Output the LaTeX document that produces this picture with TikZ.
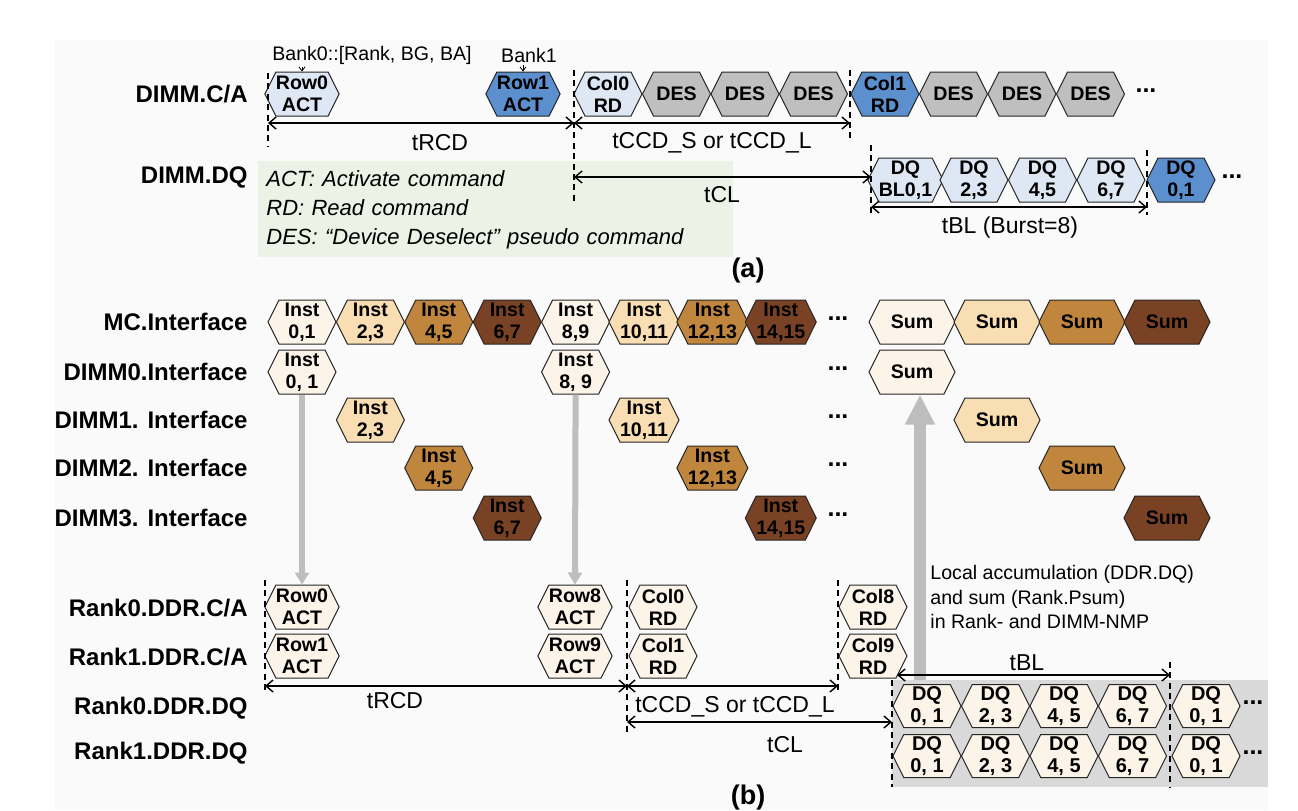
\documentclass[tikz,border=0pt]{standalone}
\usepackage{fontspec}
\setmainfont{Liberation Sans}
\definecolor{PaperGray}{RGB}{250, 250, 250}
\definecolor{PaleBlue}{RGB}{222, 231, 244}
\definecolor{DeepBlue}{RGB}{91, 143, 205}
\definecolor{DesGray}{RGB}{191, 191, 191}
\definecolor{NoteGreen}{RGB}{236, 242, 229}
\definecolor{Cream}{RGB}{252, 244, 232}
\definecolor{Tan}{RGB}{248, 222, 178}
\definecolor{Ochre}{RGB}{193, 134, 62}
\definecolor{Umber}{RGB}{121, 66, 36}
\definecolor{PanelGray}{RGB}{217, 217, 217}
\definecolor{FeedGray}{RGB}{190, 190, 190}
\usetikzlibrary{arrows.meta, shapes.symbols, positioning}
\tikzset{
  lane/.style={anchor=east, inner sep=0pt, font=\fontsize{12}{14}\selectfont\bfseries},
  hexbox/.style={signal, signal to=east and west, signal pointer angle=127, draw=black!85, line width=0.5pt,
    inner sep=0pt, minimum width=34pt, minimum height=22pt, align=center, font=\fontsize{9.8}{11}\selectfont\bfseries},
  sumbox/.style={hexbox, minimum width=43pt},
  dqbox/.style={hexbox, fill=Cream, minimum height=21.5pt, font=\fontsize{10}{11.2}\selectfont\bfseries},
  dots/.style={font=\fontsize{12.5}{14}\selectfont\bfseries},
  marker/.style={line width=0.6pt, dash pattern=on 3pt off 2.2pt},
  timing/.style={<->, line width=0.7pt},
  tlabel/.style={font=\fontsize{11.5}{13}\selectfont},
  note/.style={inner sep=1pt, font=\fontsize{9.8}{12.2}\selectfont},
  legend/.style={fill=NoteGreen, inner xsep=4pt, text width=229.5pt, minimum height=48pt, align=left,
    font=\fontsize{11}{14.5}\selectfont\itshape},
  caption/.style={font=\fontsize{13.5}{15}\selectfont\bfseries},
  feed/.style={FeedGray, line width=3pt, -{Triangle[length=6pt, width=7pt]}},
  accum/.style={FeedGray, line width=6pt, -{Triangle[length=15pt, width=14pt]}}
}
\begin{document}
\begin{tikzpicture}[x=0.5pt, y=-0.5pt, >={Straight Barb[length=3.5pt, width=6pt]}]
    \useasboundingbox (0,0) rectangle (1298,810);
    \fill[PaperGray] (55,40) rectangle (1268,810);
    % ---------- (a) DIMM level ----------
    \node[lane] (laCA) at (248,94) {DIMM.C/A};
    \node[lane] (laDQ) at (248,177) {DIMM.DQ};
    % legend
    \node[legend, anchor=north west] (legend) at (258,161) {ACT: Activate command\\RD: Read command\\DES: “Device Deselect” pseudo command};
    % command bus
    \node[hexbox, fill=PaleBlue] (aRow0) at (302,94) {Row0\\ACT};
    \node[hexbox, fill=DeepBlue] (aRow1) at (523,94) {Row1\\ACT};
    \node[hexbox, fill=PaleBlue] (aCol0) at (608,94) {Col0\\RD};
    \foreach \x [count=\i] in {676.5,745,813.5}
        \node[hexbox, fill=DesGray] (aDesA\i) at (\x,94) {DES};
    \node[hexbox, fill=DeepBlue] (aCol1) at (885,94) {Col1\\RD};
    \foreach \x [count=\i] in {953.5,1022,1090.5}
        \node[hexbox, fill=DesGray] (aDesB\i) at (\x,94) {DES};
    \node[dots] (aDots) at (1146,91) {...};
    % bank tags
    \node[note] (bank0) at (372,55) {Bank0::[Rank, BG, BA]};
    \node[note] (bank1) at (529,55) {Bank1};
    \draw[-{Straight Barb[length=2pt, width=3pt]}, line width=0.4pt] (bank0.south -| aRow0) -- (aRow0.north);
    \draw[-{Straight Barb[length=2pt, width=3pt]}, line width=0.4pt] (bank1.south -| aRow1) -- (aRow1.north);
    % data bus
    \foreach \x/\lbl [count=\i] in {905.5/{BL0,1}, 974/{2,3}, 1042.5/{4,5}, 1111/{6,7}}
        \node[hexbox, fill=PaleBlue] (aDq\i) at (\x,180) {DQ\\\lbl};
    \node[hexbox, fill=DeepBlue] (aDq5) at (1181,180) {DQ\\0,1};
    \node[dots] (aDqDots) at (1232,177) {...};
    % timing markers
    \coordinate (aT0) at (268,123);
    \coordinate (aT1) at (574,123);
    \coordinate (aT2) at (850,123);
    \coordinate (aL0) at (574,177);
    \coordinate (aL1) at (871,177);
    \coordinate (aB0) at (871,207);
    \coordinate (aB1) at (1147,207);
    \draw[marker] (268,73) -- (268,147);
    \draw[marker] (574,70) -- (574,205);
    \draw[marker] (850,70) -- (850,140);
    \draw[marker] (871,145) -- (871,215);
    \draw[marker] (1147,150) -- (1147,215);
    \draw[timing] (aT0) -- (aT1);
    \draw[timing] (aT1) -- (aT2);
    \draw[timing] (aL0) -- (aL1);
    \draw[timing] (aB0) -- (aB1);
    \node[tlabel] (aRcd) at (440,143) {tRCD};
    \node[tlabel] (aCcd) at (712,143) {tCCD\_S or tCCD\_L};
    \node[tlabel] (aCl) at (722,195) {tCL};
    \node[tlabel] (aBl) at (1010,228) {tBL (Burst=8)};
    \node[caption] (capA) at (748,271) {(a)};
    % ---------- (b) NMP level ----------
    \foreach \y/\txt [count=\i] in {322/{MC.Interface}, 372/{DIMM0.Interface}, 420/{DIMM1. Interface}, 468/{DIMM2. Interface},
        518/{DIMM3. Interface}, 608/{Rank0.DDR.C/A}, 657/{Rank1.DDR.C/A}, 708/{Rank0.DDR.DQ}, 753/{Rank1.DDR.DQ}}
        \node[lane] (lb\i) at (248,\y) {\txt};
    % MC interface
    \foreach \lbl/\col [count=\i from 0] in {{0,1}/Cream, {2,3}/Tan, {4,5}/Ochre, {6,7}/Umber,
        {8,9}/Cream, {10,11}/Tan, {12,13}/Ochre, {14,15}/Umber}
        \node[hexbox, fill=\col] (mc\i) at (302+68.4*\i,322) {Inst\\\lbl};
    \foreach \col [count=\i from 0] in {Cream, Tan, Ochre, Umber}
        \node[sumbox, fill=\col] (mcSum\i) at (912+85*\i,322) {Sum};
    % DIMM interfaces
    \foreach \j/\y/\col/\la/\lb in {0/372/Cream/{0, 1}/{8, 9}, 1/420/Tan/{2,3}/{10,11},
        2/468/Ochre/{4,5}/{12,13}, 3/518/Umber/{6,7}/{14,15}} {
        \node[hexbox, fill=\col] (inA\j) at (302+68.4*\j,\y) {Inst\\\la};
        \node[hexbox, fill=\col] (inB\j) at (575.6+68.4*\j,\y) {Inst\\\lb};
        \node[sumbox, fill=\col] (sum\j) at (912+85*\j,\y) {Sum};
    }
    \foreach \y [count=\i] in {322,372,420,468,518}
        \node[dots] (bDots\i) at (838,\y-3) {...};
    % rank command buses
    \foreach \r/\y/\rowA/\rowB in {0/607/0/8, 1/656/1/9} {
        \node[hexbox, fill=Cream] (rkRowA\r) at (302,\y) {Row\rowA\\ACT};
        \node[hexbox, fill=Cream] (rkRowB\r) at (575,\y) {Row\rowB\\ACT};
        \node[hexbox, fill=Cream] (rkColA\r) at (663,\y) {Col\rowA\\RD};
        \node[hexbox, fill=Cream] (rkColB\r) at (873,\y) {Col\rowB\\RD};
    }
    % instruction hand-off
    \draw[feed] (inA0.south) -- (rkRowA0.north);
    \draw[feed] (inB0.south) -- (rkRowB0.north);
    % accumulation
    \coordinate (accFoot) at (920,681);
    \draw[accum] (accFoot) -- (accFoot |- sum0.south);
    \node[note, anchor=west, align=left] (accNote) at (928,597) {Local accumulation (DDR.DQ)\\and sum (Rank.Psum)\\in Rank- and DIMM-NMP};
    % rank data buses
    \fill[PanelGray] (892,680) rectangle (1268,787);
    \foreach \r/\y in {0/706, 1/756} {
        \foreach \lbl [count=\i] in {{0, 1},{2, 3},{4, 5},{6, 7}}
            \node[dqbox] (dq\r-\i) at (858.5+68.5*\i,\y) {DQ\\\lbl};
        \node[dqbox] (dq\r-5) at (1206,\y) {DQ\\0, 1};
        \node[dots] (dqDots\r) at (1253,\y-3) {...};
    }
    % timing markers
    \coordinate (bT0) at (265,686);
    \coordinate (bT1) at (627,686);
    \coordinate (bT2) at (838,686);
    \coordinate (bL0) at (627,722);
    \coordinate (bL1) at (892,722);
    \coordinate (bB0) at (897,675);
    \coordinate (bB1) at (1170,675);
    \draw[marker] (265,580) -- (265,692);
    \draw[marker] (627,580) -- (627,735);
    \draw[marker] (838,580) -- (838,692);
    \draw[marker] (892,680) -- (892,787);
    \draw[marker] (1170,662) -- (1170,787);
    \draw[timing] (bT0) -- (bT1);
    \draw[timing] (bT1) -- (bT2);
    \draw[timing] (bL0) -- (bL1);
    \draw[timing] (bB0) -- (bB1);
    \node[tlabel] (bRcd) at (395,701) {tRCD};
    \node[tlabel] (bCcd) at (735,707) {tCCD\_S or tCCD\_L};
    \node[tlabel] (bCl) at (785,745) {tCL};
    \node[tlabel] (bBl) at (1027,663) {tBL};
    \node[caption] (capB) at (748,798) {(b)};
\end{tikzpicture}
\end{document}
